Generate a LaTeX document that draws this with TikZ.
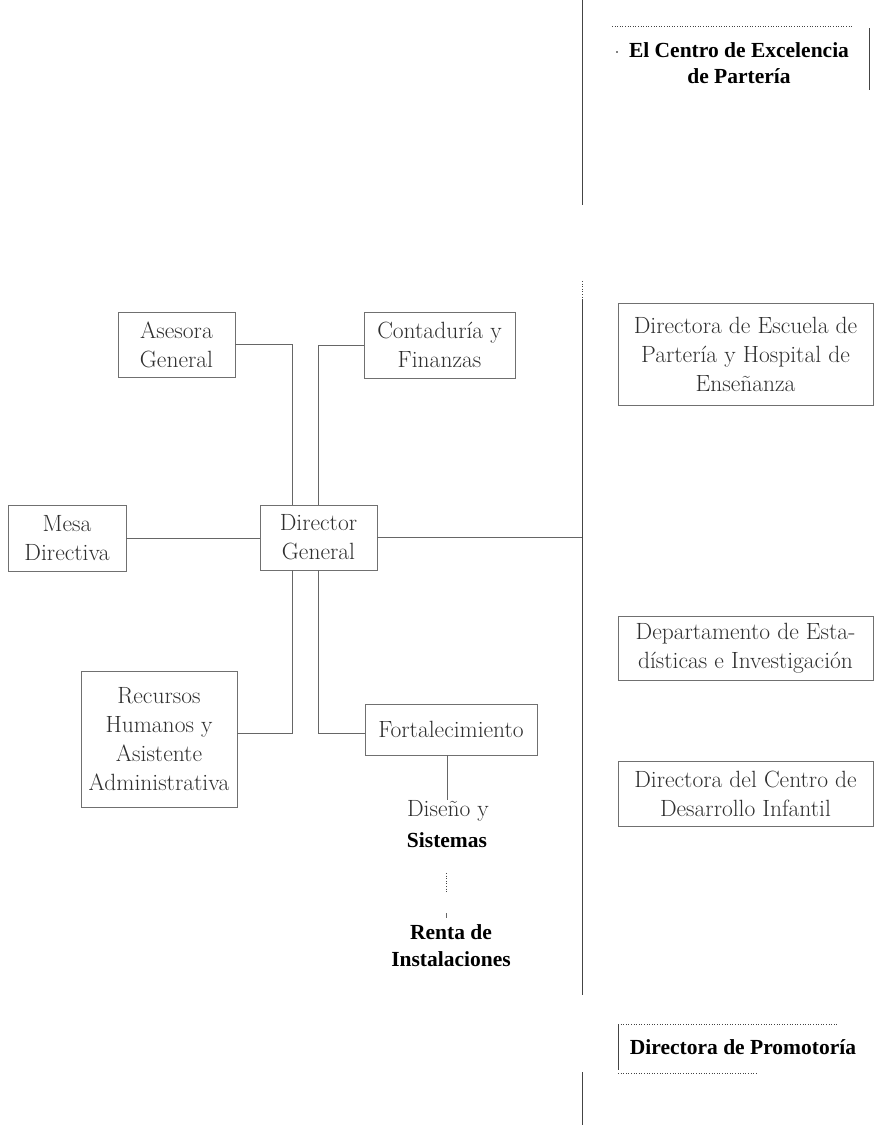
\documentclass[tikz,border=0pt]{standalone}
\usepackage{fontspec}
\newfontfamily\bsf{Liberation Serif}
\usetikzlibrary{calc}
\definecolor{txtgray}{HTML}{2E2E2E}
\definecolor{boxgray}{HTML}{707070}
\definecolor{linegray}{HTML}{666666}
\definecolor{rulegray}{HTML}{444444}
\begin{document}
\begin{tikzpicture}[x=1pt,y=-1pt,
  box/.style={draw=boxgray, line width=0.75pt, inner sep=0pt, align=center, text=txtgray, font=\fontsize{23.5}{29}\selectfont},
  plain/.style={inner sep=0pt, align=center, text=txtgray, font=\fontsize{23.5}{29}\selectfont},
  boldtxt/.style={inner sep=0pt, align=center, text=black, font=\bsf\bfseries\fontsize{21.5}{27}\selectfont},
  conn/.style={draw=linegray, line width=0.75pt},
  rule/.style={draw=rulegray, line width=0.9pt},
  dots/.style={draw=rulegray, line width=0.8pt, dash pattern=on 1pt off 1.6pt},
]
\useasboundingbox (0,0) rectangle (874,1125);

% boxes
\node[box, minimum width=117pt, minimum height=65pt] (ase) at (176.5,344.5) {Asesora\\General};
\node[box, minimum width=151pt, minimum height=66pt] (con) at (439.5,345) {Contaduría y\\Finanzas};
\node[box, minimum width=118pt, minimum height=66pt] (mesa) at (67,538) {Mesa\\Directiva};
\node[box, minimum width=117pt, minimum height=65pt] (dir) at (318.5,537.5) {Director\\General};
\node[box, minimum width=156pt, minimum height=136pt] (rec) at (159,739) {Recursos\\Humanos y\\Asistente\\Administrativa};
\node[box, minimum width=172pt, minimum height=51pt] (fort) at (451,729.5) {Fortalecimiento};
\node[box, minimum width=255pt, minimum height=102pt] (esc) at (745.5,354) {Directora de Escuela de\\Partería y Hospital de\\Enseñanza};
\node[box, minimum width=255pt, minimum height=64pt] (dep) at (745.5,648) {Departamento de Esta-\\dísticas e Investigación};
\node[box, minimum width=255pt, minimum height=65pt] (cdi) at (745.5,793.5) {Directora del Centro de\\Desarrollo Infantil};

% free texts
\node[plain] (dis) at (448,811) {Diseño y};
\node[boldtxt] (sis) at (447,840) {Sistemas};
\node[boldtxt] (ren) at (451,946) {Renta de\\Instalaciones};
\node[boldtxt, font=\bsf\bfseries\fontsize{21.5}{26}\selectfont] (cen) at (739,63) {El Centro de Excelencia\\de Partería};
\node[boldtxt] (pro) at (743,1047) {Directora de Promotoría};

% coordinates
\coordinate (rA1) at (582,0);
\coordinate (rA2) at (582,205);
\coordinate (rB1) at (582,281);
\coordinate (rB2) at (582,300);
\coordinate (rB3) at (582,995);
\coordinate (rC1) at (582,1072);
\coordinate (rC2) at (582,1125);
\coordinate (j1) at (292,733);
\coordinate (j2) at (318.5,733);
\coordinate (fd) at (447,800);
\coordinate (d1) at (446,873);
\coordinate (d2) at (446,892);
\coordinate (t1) at (446,913);
\coordinate (t2) at (446,918);
\coordinate (cT1) at (612,26);
\coordinate (cT2) at (853,26);
\coordinate (cR1) at (869,28);
\coordinate (cR2) at (869,90);
\coordinate (pT1) at (618,1024);
\coordinate (pT2) at (837,1024);
\coordinate (pL2) at (618,1070);
\coordinate (pB1) at (618,1073);
\coordinate (pB2) at (757,1073);

% right rule
\draw[rule] (rA1) -- (rA2);
\draw[dots] (rB1) -- (rB2);
\draw[rule] (rB2) -- (rB3);
\draw[rule] (rC1) -- (rC2);

% connectors
\draw[conn] (ase.east) -| ([xshift=-26.5pt]dir.north);
\draw[conn] (con.west) -| (dir.north);
\draw[conn] (mesa.east) -- (mesa.east -| dir.west);
\draw[conn] (dir.east) -- (dir.east -| rB3);
\draw[conn] ([xshift=-26.5pt]dir.south) -- (j1) -- (j1 -| rec.east);
\draw[conn] (dir.south) -- (j2) -- (j2 -| fort.west);
\draw[conn] (fort.south -| fd) -- (fd);
\draw[dots] (d1) -- (d2);
\draw[conn] (t1) -- (t2);

% El Centro frame
\draw[dots] (cT1) -- (cT2);
\draw[rule] (cR1) -- (cR2);
\fill[black] (617,52) circle (0.9pt);

% Promotoria frame
\draw[dots] (pT1) -- (pT2);
\draw[rule] (pT1) -- (pL2);
\draw[dots] (pB1) -- (pB2);
\end{tikzpicture}
\end{document}
